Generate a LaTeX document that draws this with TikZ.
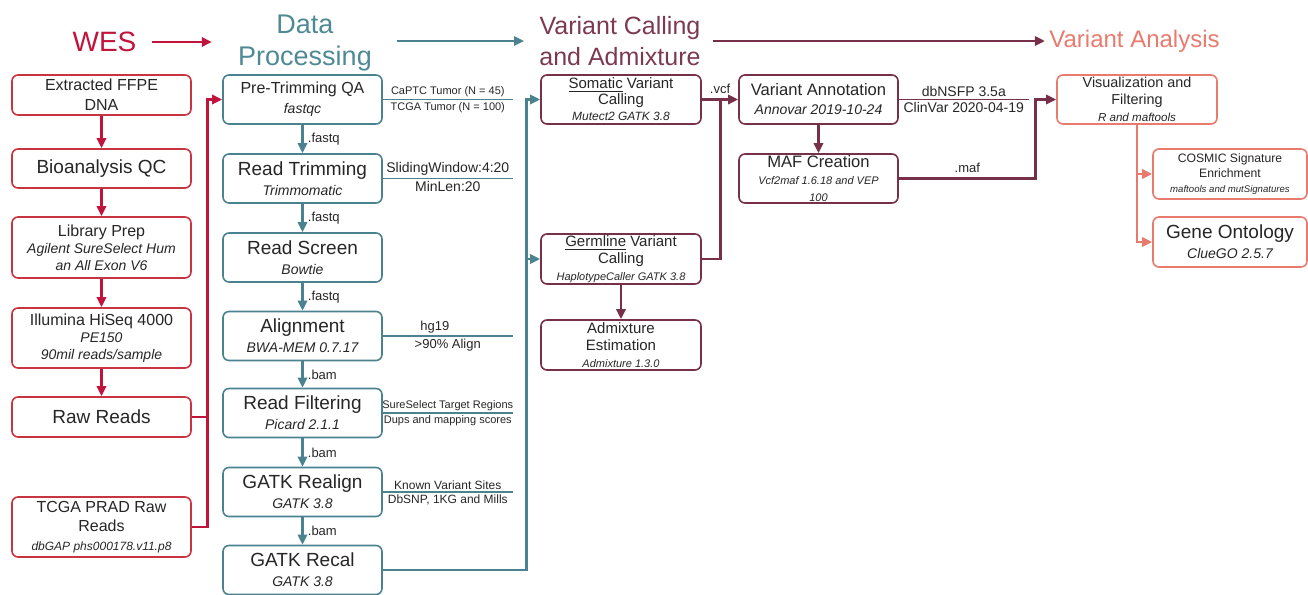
\documentclass[tikz,border=0pt]{standalone}
\usepackage{fontspec}
\setmainfont{Liberation Sans}
\usetikzlibrary{arrows.meta}

\definecolor{wesred}{HTML}{C0143C}
\definecolor{wesbord}{HTML}{C8343F}
\definecolor{dpteal}{HTML}{4A8290}
\definecolor{dphead}{HTML}{4F8A94}
\definecolor{vcmaroon}{HTML}{76304A}
\definecolor{vchead}{HTML}{7B3A50}
\definecolor{vasalmon}{HTML}{E87B6E}
\definecolor{boxtext}{HTML}{262626}

\newcommand{\fsz}[2]{\fontsize{#1}{#2}\selectfont}
\newcommand{\sub}[2]{{\fsz{#1}{#1}\itshape #2}}

\begin{document}
\begin{tikzpicture}[x=0.5pt, y=-0.5pt,
	box/.style={draw, rounded corners=3pt, line width=0.8pt, fill=white, align=center, inner xsep=1pt, inner ysep=0pt, text=boxtext},
	wesbox/.style={box, draw=wesbord, minimum width=89.5pt},
	dpbox/.style={box, draw=dpteal, minimum width=79.5pt, minimum height=24.5pt},
	vcbox/.style={box, draw=vcmaroon, minimum width=80pt, minimum height=24.5pt},
	vabox/.style={box, draw=vasalmon, minimum height=25pt},
	head/.style={inner sep=0pt, align=center},
	tip/.style={-{Triangle[length=5pt, width=4.6pt]}},
	wesarrow/.style={tip, draw=wesred, line width=1.4pt},
	dparrow/.style={tip, draw=dpteal, line width=1.4pt},
	vcarrow/.style={tip, draw=vcmaroon, line width=1.4pt},
	vaarrow/.style={tip, draw=vasalmon, line width=1.4pt},
	noteline/.style={draw=dpteal, line width=0.7pt},
	note/.style={inner sep=1pt, text=boxtext},
	flabel/.style={inner sep=2pt, text=boxtext, font=\fsz{6.5}{7}}
]

	\useasboundingbox (0,0) rectangle (1308,595);

	% headers
	\node[head, text=wesred, font=\fsz{14}{16}] (weshead) at (104.5,42) {WES};
	\node[head, text=dphead, font=\fsz{13.5}{16}] (dphd) at (305,43) {Data\\Processing};
	\node[head, text=vchead, font=\fsz{12.5}{15.5}] (vchd) at (620,41.5) {Variant Calling\\and Admixture};
	\node[head, text=vasalmon, font=\fsz{12}{14}] (vahd) at (1134.5,41) {Variant Analysis};

	\draw[wesarrow, shorten <=7.5pt, shorten >=13pt] (weshead.east) -- (dphd.west |- weshead.east);
	\draw[dparrow, shorten <=12.5pt, shorten >=7.5pt] (dphd.east |- vahd.west) -- (vchd.west |- vahd.west);
	\draw[vcarrow, shorten <=6pt, shorten >=2pt] (vchd.east |- vahd.west) -- (vahd.west);

	% WES column
	\node[wesbox, minimum height=20pt, font=\fsz{8}{10}] (ffpe) at (101.5,95) {Extracted FFPE\\DNA};
	\node[wesbox, minimum height=19.5pt, font=\fsz{9.5}{11}] (bioqc) at (101.5,168.5) {Bioanalysis QC};
	\node[wesbox, minimum height=30.5pt, font=\fsz{8}{8.5}] (libprep) at (101.5,247.5) {Library Prep\\\sub{7}{Agilent SureSelect Hum}\\\sub{7}{an All Exon V6}};
	\node[wesbox, minimum height=30pt, font=\fsz{8}{8.5}] (illumina) at (101.5,338) {Illumina HiSeq 4000\\\sub{7}{PE150}\\\sub{7}{90mil reads/sample}};
	\node[wesbox, minimum height=20pt, font=\fsz{9.5}{11}] (rawreads) at (101.5,417) {Raw Reads};
	\node[wesbox, minimum height=30pt, font=\fsz{8}{9.5}] (tcga) at (101.5,527) {TCGA PRAD Raw\\Reads\\\sub{6}{dbGAP phs000178.v11.p8}};

	\foreach \a/\b in {ffpe/bioqc, bioqc/libprep, libprep/illumina, illumina/rawreads}
		\draw[wesarrow] (\a.south) -- (\b.north);

	% Data processing column
	\node[dpbox, font=\fsz{8}{10}] (pretrim) at (302.5,99.5) {Pre-Trimming QA\\\sub{7}{fastqc}};
	\node[dpbox, font=\fsz{9.5}{10}] (trim) at (302.5,178.5) {Read Trimming\\\sub{7}{Trimmomatic}};
	\node[dpbox, font=\fsz{9.5}{10}] (screen) at (302.5,257.5) {Read Screen\\\sub{7}{Bowtie}};
	\node[dpbox, font=\fsz{9.5}{10}] (align) at (302.5,336) {Alignment\\\sub{7}{BWA-MEM 0.7.17}};
	\node[dpbox, font=\fsz{9.5}{10}] (filter) at (302.5,413) {Read Filtering\\\sub{7}{Picard 2.1.1}};
	\node[dpbox, font=\fsz{9.5}{10}] (realign) at (302.5,492) {GATK Realign\\\sub{7}{GATK 3.8}};
	\node[dpbox, font=\fsz{9.5}{10}] (recal) at (302.5,570) {GATK Recal\\\sub{7}{GATK 3.8}};

	\foreach \a/\b/\t in {pretrim/trim/.fastq, trim/screen/.fastq, screen/align/.fastq, align/filter/.bam, filter/realign/.bam, realign/recal/.bam}
		\draw[dparrow] (\a.south) -- node[flabel, right] {\t} (\b.north);

	% WES into data processing
	\coordinate (wesjoin) at ([xshift=8pt]tcga.east);
	\draw[wesarrow] (tcga.east) -- (wesjoin) |- (pretrim.west);
	\draw[wesarrow, -] (rawreads.east) -- (rawreads.east -| wesjoin);

	% notes
	\draw[noteline] (pretrim.east) -- ++(130,0)
		node[note, midway, above, font=\fsz{5.5}{6}] {CaPTC Tumor (N = 45)}
		node[note, midway, below, font=\fsz{5.5}{6}] {TCGA Tumor (N = 100)};
	\draw[noteline] (trim.east) -- ++(130,0)
		node[note, midway, above, font=\fsz{7}{8}] {SlidingWindow:4:20}
		node[note, midway, below, font=\fsz{7}{8}] {MinLen:20};
	\draw[noteline] (align.east) -- ++(130,0)
		node[note, pos=0.4, above, font=\fsz{6.5}{7}] {hg19}
		node[note, midway, below, font=\fsz{6.5}{7}] {>90\% Align};
	\draw[noteline] (filter.east) -- ++(130,0)
		node[note, midway, above, font=\fsz{5.5}{6}] {SureSelect Target Regions}
		node[note, midway, below, font=\fsz{5.5}{6}] {Dups and mapping scores};
	\draw[noteline] (realign.east) -- ++(130,0)
		node[note, midway, above, font=\fsz{6}{6.5}] {Known Variant Sites}
		node[note, midway, below, font=\fsz{6}{6.5}] {DbSNP, 1KG and Mills};

	% Variant calling column
	\node[vcbox, font=\fsz{7.5}{8}] (somatic) at (621,99.5) {\underline{Somatic} Variant\\Calling\\\sub{6}{Mutect2 GATK 3.8}};
	\node[vcbox, minimum height=25pt, font=\fsz{7.5}{8.5}] (germline) at (621,259) {\underline{Germline} Variant\\Calling\\\sub{5.5}{HaplotypeCaller GATK 3.8}};
	\node[vcbox, minimum height=25pt, font=\fsz{7.5}{8.5}] (admix) at (621,345) {Admixture\\Estimation\\\sub{5.5}{Admixture 1.3.0}};

	\coordinate (dpjoin) at ([xshift=72pt]recal.east);
	\draw[dparrow] (recal.east) -- (dpjoin) |- (somatic.west);
	\draw[dparrow] (germline.west -| dpjoin) -- (germline.west);
	\draw[vcarrow] (germline.south) -- (admix.north);

	% annotation
	\node[vcbox, minimum width=79.5pt, font=\fsz{8.3}{9.5}] (annot) at (818.5,99.5) {Variant Annotation\\\sub{7}{Annovar 2019-10-24}};
	\node[vcbox, minimum width=79.5pt, font=\fsz{8.3}{8.5}] (maf) at (818.5,178.5) {MAF Creation\\\sub{5.5}{Vcf2maf 1.6.18 and VEP}\\\sub{5.5}{100}};

	\draw[vcarrow] (somatic.east) -- node[flabel, above] {.vcf} (annot.west);
	\coordinate (vcjoin) at ([xshift=9.5pt]germline.east);
	\draw[vcarrow, -] (germline.east) -- (vcjoin) -- (vcjoin |- somatic.east);
	\draw[vcarrow] (annot.south) -- (maf.north);

	\draw[noteline, draw=vcmaroon] (annot.east) -- ++(130,0)
		node[note, midway, above, font=\fsz{7}{8}] {dbNSFP 3.5a}
		node[note, midway, below, font=\fsz{7}{8}] {ClinVar 2020-04-19};

	% Variant analysis
	\node[vabox, minimum width=80pt, minimum height=24.5pt, font=\fsz{7.2}{8.5}] (vis) at (1137,99.5) {Visualization and\\Filtering\\\sub{5.8}{R and maftools}};
	\node[vabox, minimum width=77pt, font=\fsz{6.1}{7.5}] (cosmic) at (1230,174) {COSMIC Signature\\Enrichment\\\sub{4.8}{maftools and mutSignatures}};
	\node[vabox, minimum width=77pt, font=\fsz{9.5}{10}] (geneonto) at (1230,242) {Gene Ontology\\\sub{7}{ClueGO 2.5.7}};

	\coordinate (mafjoin) at ([xshift=68.5pt]maf.east);
	\draw[vcarrow] (maf.east) -- node[flabel, above] {.maf} (mafjoin) |- (vis.west);
	\draw[vaarrow] (vis.south) |- (geneonto.west);
	\draw[vaarrow] (vis.south |- cosmic.west) -- (cosmic.west);

\end{tikzpicture}
\end{document}
